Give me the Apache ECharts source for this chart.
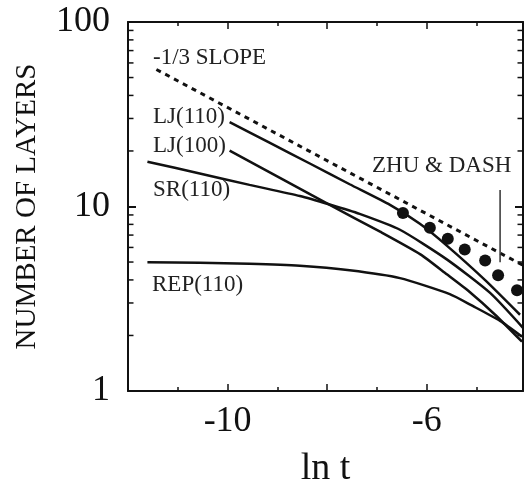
<!DOCTYPE html>
<html>
<head>
<meta charset="utf-8">
<script src="https://cdn.jsdelivr.net/npm/echarts@6/dist/echarts.min.js"></script>
<style>
  html, body { margin: 0; padding: 0; background: #fff; }
  #chart { width: 527px; height: 493px; }
</style>
</head>
<body>
<div id="chart"></div>
<script>
// ---- data (x = ln t, y = number of layers) ----
const slopeLine = [[-11.43, 55.3], [-4.07, 4.8]];
const lj110 = [[-9.96, 28.7], [-9.16, 22.2], [-8.35, 17.1], [-7.55, 13.2], [-6.74, 10.2], [-6.14, 8.06], [-5.60, 6.14], [-4.83, 3.99], [-4.13, 2.59]];
const lj100 = [[-9.96, 20.1], [-8.95, 14.3], [-7.95, 10.2], [-6.94, 7.30], [-6.13, 5.50], [-5.60, 4.29], [-5.14, 3.44], [-4.63, 2.59], [-4.09, 1.85]];
const sr110 = [[-11.61, 17.5], [-10.56, 15.1], [-9.56, 13.1], [-8.55, 11.4], [-7.95, 10.25], [-7.35, 9.12], [-6.54, 7.48], [-5.60, 5.17], [-4.73, 3.40], [-4.07, 2.20]];
const rep110 = [[-11.61, 4.98], [-10.56, 4.95], [-9.56, 4.89], [-8.55, 4.77], [-7.55, 4.51], [-6.54, 4.09], [-5.54, 3.35], [-5.08, 2.89], [-4.53, 2.40], [-4.09, 1.97]];
const zhuDash = [[-6.48, 9.23], [-5.94, 7.67], [-5.58, 6.69], [-5.24, 5.85], [-4.83, 5.10], [-4.57, 4.24], [-4.19, 3.52]];
const zhuPointer = [[-4.53, 12.3], [-4.53, 4.98]];

const xLabeled = [-10, -6];
const yMinorTicks = [2, 3, 4, 5, 6, 7, 8, 9, 20, 30, 40, 50, 60, 70, 80, 90];
const xMin = -12, xMax = -4.07, yMin = 1, yMax = 100;

const FONT = '"Liberation Serif", "DejaVu Serif", serif';
const INK = '#111';

const chart = echarts.init(document.getElementById('chart'), null, { renderer: 'canvas' });

const xAxisBase = {
  type: 'value', min: xMin, max: xMax, interval: 2,
  axisLine: { show: true, lineStyle: { color: INK, width: 2 } },
  axisTick: { show: true, inside: true, length: 7, lineStyle: { color: INK, width: 1.5 } },
  minorTick: { show: true, splitNumber: 2, length: 4, lineStyle: { color: INK, width: 1.5 } },
  splitLine: { show: false }
};
const yAxisBase = {
  type: 'log', logBase: 10, min: yMin, max: yMax,
  axisLine: { show: true, lineStyle: { color: INK, width: 2 } },
  axisTick: { show: true, inside: true, length: 8, lineStyle: { color: INK, width: 2 } },
  splitLine: { show: false }
};

const lineSeries = (name, data, extra) => Object.assign({
  name, type: 'line', data, showSymbol: false, symbol: 'none', smooth: 0.2,
  lineStyle: { color: INK, width: 2.5 }, silent: true, z: 3
}, extra || {});

const minorTickData = (xv) => yMinorTicks.map(v => [xv, v]);

chart.setOption({
  animation: false,
  backgroundColor: '#fff',
  grid: { left: 128, top: 22, right: 4, bottom: 98, containLabel: false },
  xAxis: [
    Object.assign({}, xAxisBase, {
      position: 'bottom',
      name: 'ln t', nameLocation: 'middle', nameGap: 59,
      nameTextStyle: { fontFamily: FONT, fontSize: 38, color: INK },
      axisLabel: {
        show: true, margin: 13, fontFamily: FONT, fontSize: 36, color: INK,
        formatter: v => (xLabeled.indexOf(Math.round(v * 100) / 100) >= 0 ? String(v) : '')
      }
    }),
    Object.assign({}, xAxisBase, { position: 'top', axisLabel: { show: false } })
  ],
  yAxis: [
    Object.assign({}, yAxisBase, {
      position: 'left',
      name: 'NUMBER OF LAYERS', nameLocation: 'middle', nameGap: 86,
      nameTextStyle: { fontFamily: FONT, fontSize: 29, color: INK },
      axisLabel: { show: true, margin: 18, fontFamily: FONT, fontSize: 36, color: INK }
    }),
    Object.assign({}, yAxisBase, { position: 'right', axisLabel: { show: false } })
  ],
  series: [
    lineSeries('-1/3 slope', slopeLine, { smooth: false, lineStyle: { color: INK, width: 3, type: [5, 5] } }),
    lineSeries('LJ(110)', lj110),
    lineSeries('LJ(100)', lj100),
    lineSeries('SR(110)', sr110),
    lineSeries('REP(110)', rep110),
    lineSeries('pointer', zhuPointer, { smooth: false, lineStyle: { color: '#333', width: 1.5 } }),
    {
      name: 'ZHU & DASH', type: 'scatter', data: zhuDash, symbol: 'circle', symbolSize: 12,
      itemStyle: { color: INK, opacity: 1 }, silent: true, z: 4
    },
    {
      name: 'yMinorLeft', type: 'scatter', data: minorTickData(xMin), symbol: 'rect',
      symbolSize: [5, 1.5], symbolOffset: [3, 0], itemStyle: { color: INK, opacity: 1 }, silent: true, clip: false, z: 2
    },
    {
      name: 'yMinorRight', type: 'scatter', data: minorTickData(xMax), symbol: 'rect',
      symbolSize: [5, 1.5], symbolOffset: [-3, 0], itemStyle: { color: INK, opacity: 1 }, silent: true, clip: false, z: 2
    }
  ],
  graphic: [
    { type: 'text', x: 153, y: 57.5, style: { text: '-1/3 SLOPE', font: '23px ' + FONT, fill: '#222', align: 'left', verticalAlign: 'middle' } },
    { type: 'text', x: 153, y: 117, style: { text: 'LJ(110)', font: '23px ' + FONT, fill: '#222', align: 'left', verticalAlign: 'middle' } },
    { type: 'text', x: 153, y: 145.5, style: { text: 'LJ(100)', font: '23px ' + FONT, fill: '#222', align: 'left', verticalAlign: 'middle' } },
    { type: 'text', x: 153, y: 190, style: { text: 'SR(110)', font: '23px ' + FONT, fill: '#222', align: 'left', verticalAlign: 'middle' } },
    { type: 'text', x: 152, y: 284.5, style: { text: 'REP(110)', font: '23px ' + FONT, fill: '#222', align: 'left', verticalAlign: 'middle' } },
    { type: 'text', x: 372, y: 165.5, style: { text: 'ZHU & DASH', font: '23px ' + FONT, fill: '#222', align: 'left', verticalAlign: 'middle' } }
  ]
});
</script>
</body>
</html>
